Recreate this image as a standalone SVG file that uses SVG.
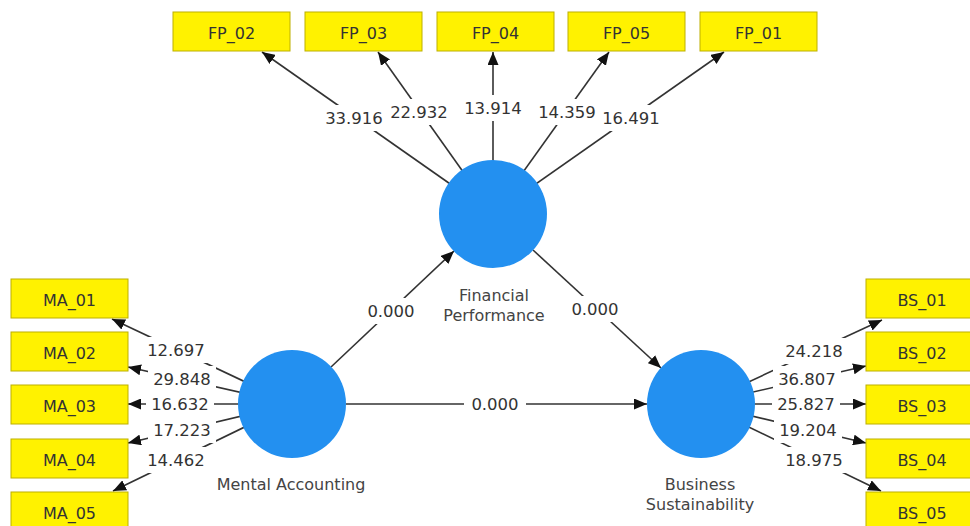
<svg xmlns="http://www.w3.org/2000/svg" width="970" height="526" viewBox="0 0 970 526">
<defs>
<marker id="ah" markerUnits="userSpaceOnUse" markerWidth="13" markerHeight="11" refX="13" refY="5.5" orient="auto">
<path d="M0,0 L13,5.5 L0,11 Z" fill="#111"/>
</marker>
</defs>
<style>
.box{fill:#FFF200;stroke:#BDB000;stroke-width:1}
.bt{font-family:"DejaVu Sans",sans-serif;font-size:16px;fill:#333;text-anchor:middle}
.lv{fill:#2390F0}
.nm{font-family:"DejaVu Sans",sans-serif;font-size:16px;fill:#444;text-anchor:middle}
.ln{stroke:#333;stroke-width:1.6;fill:none;marker-end:url(#ah)}
.bg{fill:#fff}
.lb{font-family:"DejaVu Sans",sans-serif;font-size:16.5px;fill:#333;text-anchor:middle}
</style>
<rect width="970" height="526" fill="#fff"/>
<g id="connectors">
<line class="ln" x1="493" y1="214" x2="262" y2="52"/>
<line class="ln" x1="493" y1="214" x2="378" y2="52"/>
<line class="ln" x1="493" y1="214" x2="493" y2="52"/>
<line class="ln" x1="493" y1="214" x2="609" y2="52"/>
<line class="ln" x1="493" y1="214" x2="724" y2="52"/>
<line class="ln" x1="292" y1="404" x2="112" y2="319"/>
<line class="ln" x1="292" y1="404" x2="128" y2="367"/>
<line class="ln" x1="292" y1="404" x2="128" y2="404"/>
<line class="ln" x1="292" y1="404" x2="128" y2="443"/>
<line class="ln" x1="292" y1="404" x2="113" y2="491"/>
<line class="ln" x1="701" y1="404" x2="882" y2="320"/>
<line class="ln" x1="701" y1="404" x2="866" y2="366"/>
<line class="ln" x1="701" y1="404" x2="866" y2="404"/>
<line class="ln" x1="701" y1="404" x2="866" y2="443"/>
<line class="ln" x1="701" y1="404" x2="881" y2="491"/>
<line class="ln" x1="331" y1="367" x2="454" y2="251"/>
<line class="ln" x1="533" y1="250" x2="661" y2="368"/>
<line class="ln" x1="346" y1="404" x2="647" y2="404"/>
<g>
<rect class="bg" x="320" y="105" width="68" height="26"/><text class="lb" x="354" y="124">33.916</text>
<rect class="bg" x="385" y="99" width="68" height="26"/><text class="lb" x="419" y="118">22.932</text>
<rect class="bg" x="459" y="95" width="68" height="26"/><text class="lb" x="493" y="114">13.914</text>
<rect class="bg" x="533" y="99" width="68" height="26"/><text class="lb" x="567" y="118">14.359</text>
<rect class="bg" x="597" y="105" width="68" height="26"/><text class="lb" x="631" y="124">16.491</text>
<rect class="bg" x="142" y="337" width="68" height="26"/><text class="lb" x="176" y="356">12.697</text>
<rect class="bg" x="148" y="366" width="68" height="26"/><text class="lb" x="182" y="385">29.848</text>
<rect class="bg" x="146" y="391" width="68" height="26"/><text class="lb" x="180" y="410">16.632</text>
<rect class="bg" x="148" y="417" width="68" height="26"/><text class="lb" x="182" y="436">17.223</text>
<rect class="bg" x="142" y="447" width="68" height="26"/><text class="lb" x="176" y="466">14.462</text>
<rect class="bg" x="780" y="338" width="68" height="26"/><text class="lb" x="814" y="357">24.218</text>
<rect class="bg" x="773" y="366" width="68" height="26"/><text class="lb" x="807" y="385">36.807</text>
<rect class="bg" x="772" y="391" width="68" height="26"/><text class="lb" x="806" y="410">25.827</text>
<rect class="bg" x="774" y="417" width="68" height="26"/><text class="lb" x="808" y="436">19.204</text>
<rect class="bg" x="780" y="447" width="68" height="26"/><text class="lb" x="814" y="466">18.975</text>
<rect class="bg" x="361" y="298" width="60" height="26"/><text class="lb" x="391" y="317">0.000</text>
<rect class="bg" x="565" y="296" width="60" height="26"/><text class="lb" x="595" y="315">0.000</text>
<rect class="bg" x="464" y="391" width="62" height="26"/><text class="lb" x="495" y="410">0.000</text>
</g>
</g>
<g id="FP_02"><rect class="box" x="173" y="12" width="117" height="39"/><text class="bt" x="231.5" y="39">FP_02</text></g>
<g id="FP_03"><rect class="box" x="305" y="12" width="117" height="39"/><text class="bt" x="363.5" y="39">FP_03</text></g>
<g id="FP_04"><rect class="box" x="437" y="12" width="117" height="39"/><text class="bt" x="495.5" y="39">FP_04</text></g>
<g id="FP_05"><rect class="box" x="568" y="12" width="117" height="39"/><text class="bt" x="626.5" y="39">FP_05</text></g>
<g id="FP_01"><rect class="box" x="700" y="12" width="117" height="39"/><text class="bt" x="758.5" y="39">FP_01</text></g>
<g id="MA_01"><rect class="box" x="11" y="279" width="117" height="39"/><text class="bt" x="69.5" y="306">MA_01</text></g>
<g id="MA_02"><rect class="box" x="11" y="332" width="117" height="39"/><text class="bt" x="69.5" y="359">MA_02</text></g>
<g id="MA_03"><rect class="box" x="11" y="385" width="117" height="39"/><text class="bt" x="69.5" y="412">MA_03</text></g>
<g id="MA_04"><rect class="box" x="11" y="439" width="117" height="39"/><text class="bt" x="69.5" y="466">MA_04</text></g>
<g id="MA_05"><rect class="box" x="11" y="492" width="117" height="39"/><text class="bt" x="69.5" y="519">MA_05</text></g>
<g id="BS_01"><rect class="box" x="866" y="279" width="117" height="39"/><text class="bt" x="922" y="306">BS_01</text></g>
<g id="BS_02"><rect class="box" x="866" y="332" width="117" height="39"/><text class="bt" x="922" y="359">BS_02</text></g>
<g id="BS_03"><rect class="box" x="866" y="385" width="117" height="39"/><text class="bt" x="922" y="412">BS_03</text></g>
<g id="BS_04"><rect class="box" x="866" y="439" width="117" height="39"/><text class="bt" x="922" y="466">BS_04</text></g>
<g id="BS_05"><rect class="box" x="866" y="492" width="117" height="39"/><text class="bt" x="922" y="519">BS_05</text></g>
<g id="FinancialPerformance"><circle class="lv" cx="493" cy="214" r="54"/><text class="nm" x="494" y="301">Financial</text><text class="nm" x="494" y="321">Performance</text></g>
<g id="MentalAccounting"><circle class="lv" cx="292" cy="404" r="54"/><text class="nm" x="291" y="490">Mental Accounting</text></g>
<g id="BusinessSustainability"><circle class="lv" cx="701" cy="404" r="54"/><text class="nm" x="700" y="490">Business</text><text class="nm" x="700" y="510">Sustainability</text></g>
</svg>
